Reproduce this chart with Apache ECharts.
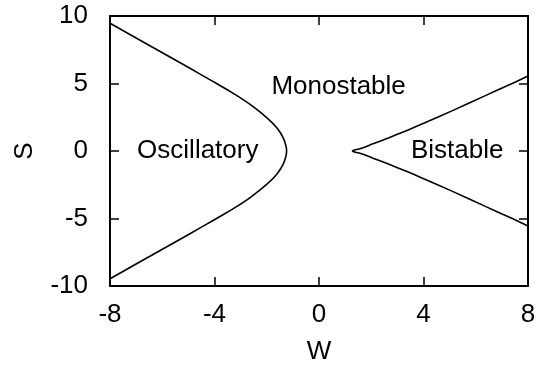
<!DOCTYPE html>
<html>
<head>
<meta charset="utf-8">
<script src="https://cdn.jsdelivr.net/npm/echarts@6/dist/echarts.min.js"></script>
<style>
  html, body { margin: 0; padding: 0; background: #fff; }
  #chart { width: 543px; height: 366px; }
</style>
</head>
<body>
<div id="chart"></div>
<script>
// Hopf boundary (left curve), upper half
const hopfS = [9.46, 8.5, 7.5, 6.5, 5.75, 5.0, 4.27, 3.41, 2.42, 1.68, 0.94, 0.32, 0]
const hopfW = [-8.0, -7.12, -6.2, -5.28, -4.6, -3.92, -3.28, -2.61, -1.97, -1.6, -1.36, -1.26, -1.24]
// saddle-node cusp (right curve), upper branch from W=8 to the tip
const cuspW = [8.0, 7.2, 6.39, 5.11, 3.83, 3.32, 2.68, 2.04, 1.6, 1.28]
const cuspS = [5.55, 4.83, 4.12, 2.99, 1.9, 1.49, 0.99, 0.51, 0.19, 0]

const xTicks = [-8, -4, 0, 4, 8]
const yTicks = [-10, -5, 0, 5, 10]

const regionNames = ['Oscillatory', 'Monostable', 'Bistable']
const regionW = [-4.64, 0.75, 5.29]
const regionS = [0, 4.74, 0]

// build both halves of each curve (lower half mirrors the upper)
let hopfData = []
hopfS.forEach((s, i) => hopfData.push([hopfW[i], s]))
for (let i = hopfS.length - 2; i >= 0; i--) hopfData.push([hopfW[i], -hopfS[i]])

let cuspData = []
cuspW.forEach((w, i) => cuspData.push([w, cuspS[i]]))
for (let i = cuspW.length - 2; i >= 0; i--) cuspData.push([cuspW[i], -cuspS[i]])

const font = '"Liberation Sans", Arial, sans-serif'

let chart = echarts.init(document.getElementById('chart'))
let axisCommon = {
  type: 'value',
  axisLine: { show: true, onZero: false, lineStyle: { color: '#000', width: 2 } },
  axisTick: { show: true, inside: true, length: 9, lineStyle: { color: '#000', width: 1.5 } },
  splitLine: { show: false }
}
chart.setOption({
  animation: false,
  grid: { left: 110, right: 15, top: 16, bottom: 80, outerBoundsMode: 'none' },
  xAxis: [
    Object.assign({}, axisCommon, {
      min: xTicks[0], max: xTicks[xTicks.length - 1], interval: 4,
      name: 'W', nameLocation: 'middle', nameGap: 53,
      nameTextStyle: { fontFamily: font, fontSize: 26, color: '#000' },
      axisLabel: { fontFamily: font, fontSize: 26, color: '#000', margin: 16 }
    }),
    Object.assign({}, axisCommon, {
      position: 'top', min: xTicks[0], max: xTicks[xTicks.length - 1], interval: 4,
      axisLabel: { show: false }
    })
  ],
  yAxis: [
    Object.assign({}, axisCommon, {
      min: yTicks[0], max: yTicks[yTicks.length - 1], interval: 5,
      name: 'S', nameLocation: 'middle', nameGap: 72, nameRotate: 90,
      nameTextStyle: { fontFamily: font, fontSize: 26, color: '#000' },
      axisLabel: { fontFamily: font, fontSize: 26, color: '#000', margin: 22 }
    }),
    Object.assign({}, axisCommon, {
      position: 'right', min: yTicks[0], max: yTicks[yTicks.length - 1], interval: 5,
      axisLabel: { show: false }
    })
  ],
  series: [
    {
      name: 'hopf', type: 'line', data: hopfData, smooth: 0.4,
      showSymbol: false, clip: true,
      lineStyle: { color: '#000', width: 1.6 }
    },
    {
      name: 'cusp', type: 'line', data: cuspData, smooth: 0.4,
      showSymbol: false, clip: true,
      lineStyle: { color: '#000', width: 1.6 }
    },
    {
      name: 'regions', type: 'scatter', symbolSize: 0, silent: true,
      data: regionNames.map((n, i) => ({ value: [regionW[i], regionS[i]], name: n })),
      label: {
        show: true, position: 'inside', formatter: '{b}',
        fontFamily: font, fontSize: 26, color: '#000', opacity: 1
      }
    }
  ]
})
</script>
</body>
</html>
